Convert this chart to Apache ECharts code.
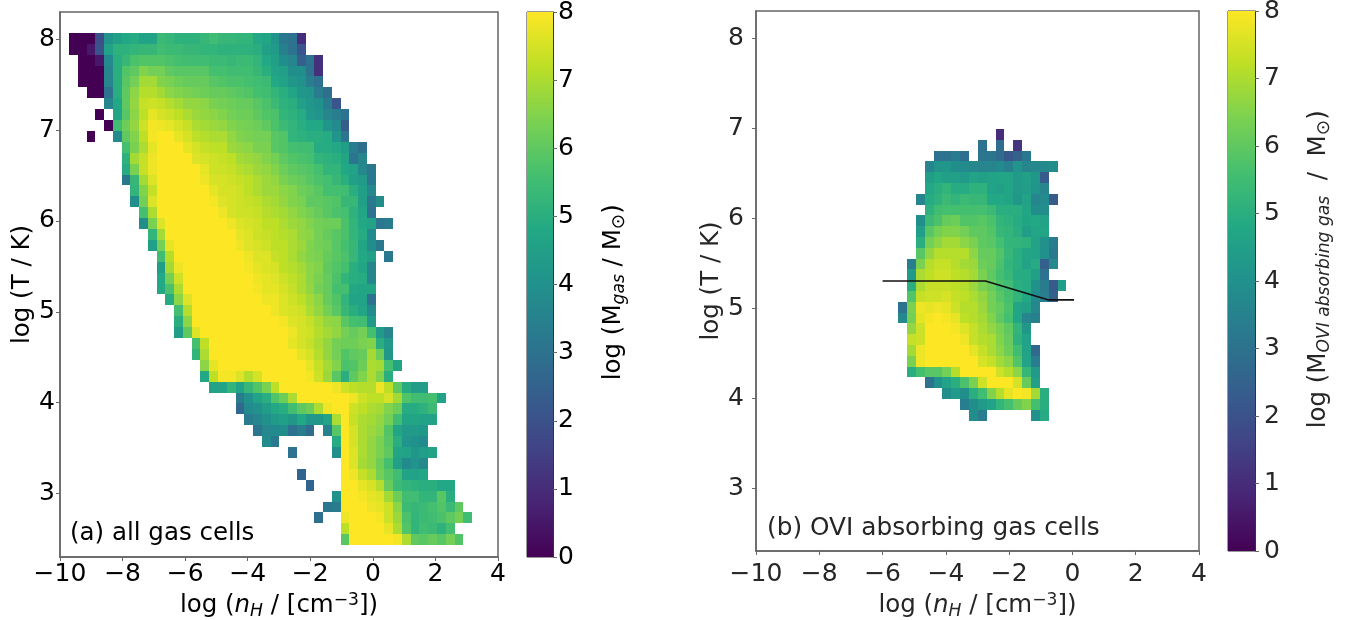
<!DOCTYPE html>
<html>
<head>
<meta charset="utf-8">
<style>html,body{margin:0;padding:0;background:#fff}#c{width:1348px;height:620px}</style>
<script src="https://cdn.jsdelivr.net/npm/echarts@6/dist/echarts.min.js"></script>
</head>
<body>
<div id="c"></div>
<script>
// histogram bins
const binX0 = -9.71, binW = 0.28, binYTop = 8.07, binH = 0.12;
// axis ticks
const xTicks = [-10,-8,-6,-4,-2,0,2,4];
const yTicks = [3,4,5,6,7,8];
const cbarRange = [0,8];
// viridis
const viridis = ['#440154','#482475','#414487','#355f8d','#2a788e','#21918c','#22a884','#44bf70','#7ad151','#bddf26','#fde725'];
// Panel (a): [row, firstColumn, values...]  (row 0 = top)
const gasRows = [
[0,0,0,0,0,1.9,4.1,4.5,4.8,4.9,4.6,4.6,5.4,5.3,5.1,5.1,5.1,5.3,5.5,5.3,5.3,5.2,5.2,4.8,4.7,4.1,3.2,3,1],
[1,0,0,0,0.5,2,4.6,5.1,5.1,5.2,5.3,5.3,5.5,5.4,5.4,5.3,5.3,5.2,5.2,5.1,5.1,5.1,5.1,5,4.5,4.3,3.5,3,2.1],
[2,1,0,0,0.5,3.8,5,5.3,5.7,5.8,5.8,5.8,5.7,5.6,5.5,5.5,5.5,5.4,5.4,5.3,5.4,5.4,5.2,4.8,4.5,3.9,3.6,2.4,3,1.1],
[3,1,0,0,0,3.6,5,5.8,6,6.5,6.3,6.3,6,5.9,5.9,5.9,5.9,5.6,5.6,5.5,5.5,5.5,5.3,5,4.6,4.5,3.9,3.9,3,1.1],
[4,1,0,0,0,3.6,5,5.9,6.3,6.9,6.9,6.5,6.4,6.2,6.1,6.1,6.1,5.9,5.8,5.7,5.7,5.6,5.5,5.4,4.8,4.6,4.2,4,3.4,3],
[5,2,0,0,3,5,6,6.6,7.1,7.1,6.9,6.6,6.5,6.4,6.3,6.2,6.1,6.1,6,5.9,5.8,5.6,5.5,5.2,5,4.7,4.2,4.1,3.3,2.9],
[6,4,3.6,4.8,6,6.7,7.3,7.4,7.3,7.1,6.9,6.7,6.7,6.6,6.4,6.3,6.2,6.1,6.1,5.9,5.7,5.4,5.1,5,4.5,4.2,4,3.3,2.1],
[7,3,0,null,4.7,5.9,6.6,7.2,7.7,7.5,7.4,7.2,7,6.8,6.7,6.6,6.5,6.3,6.2,6.2,6,5.8,5.7,5.2,5.1,4.9,4.3,4.1,3.6,3.4,3],
[8,4,0,5.5,6.2,6.7,7.4,7.9,7.8,7.7,7.5,7.3,7,6.9,6.8,6.7,6.5,6.4,6.3,6.2,6,5.7,5.4,5.2,5,4.8,4.8,4.1,3.8,2.3],
[9,2,0,null,null,3.8,6,6.5,7.2,7.9,8,8,7.7,7.5,7.2,7.1,7,7,6.7,6.5,6.4,6.3,6.3,5.9,5.8,5.2,5.1,5,5,4.9,4.1,3.1],
[10,6,5.6,6.4,7,7.7,8,8,8,7.7,7.5,7.3,7.2,7.2,6.8,6.7,6.6,6.4,6.4,5.9,5.8,5.6,5.5,5.5,4.9,4.9,4.8,4.4,3.4,2.9],
[11,6,5.1,6.9,7.3,7.8,8,8,8,8,7.6,7.5,7.4,7.3,7.2,6.9,6.8,6.7,6.5,6.3,6,5.8,5.7,5.6,5.2,5.1,5,4.7,3.1,3.6],
[12,6,4.9,6.4,7.3,7.8,8,8,8,8,8,7.7,7.4,7.4,7.3,7.1,7,6.8,6.7,6.5,6.2,6,5.9,5.8,5.6,5.2,5.2,4.8,4.6,3.7,3.2],
[13,6,3.2,5.3,6.9,7.6,8,8,8,8,8,7.8,7.5,7.5,7.4,7.3,7.2,7,6.8,6.7,6.4,6.2,6.1,5.9,5.7,5.6,5.3,5,4.5,4.3,3.2],
[14,7,5.2,6.5,7.3,8,8,8,8,8,8,7.7,7.5,7.5,7.4,7.2,7,6.8,6.8,6.6,6.5,6.2,6.1,5.9,5.6,5.6,5.5,5,4.5,3.7],
[15,7,3.9,6.3,7.6,8,8,8,8,8,8,7.9,7.6,7.5,7.4,7.3,7.2,7,6.9,6.7,6.5,6.4,6,6,5.9,5.8,5.3,5.3,4.5,3.2,3.9],
[16,8,5.6,7,8,8,8,8,8,8,8,7.8,7.5,7.4,7.4,7.3,7.1,7,6.9,6.7,6.5,6.3,6.1,5.9,5.7,5.6,5.1,4.7,3],
[17,8,3.9,6.4,7.6,8,8,8,8,8,8,8,7.8,7.6,7.5,7.4,7.2,7.2,7,6.8,6.7,6.5,6.3,6.2,6.2,5.7,5.2,4.8,4.6,3.1,3.3],
[18,9,5.2,6.9,8,8,8,8,8,8,8,8,7.7,7.6,7.4,7.3,7.2,7.1,7,6.7,6.6,6.3,6.1,5.9,5.7,5.2,4.9,3.8],
[19,9,4.5,6.3,7.7,8,8,8,8,8,8,8,7.8,7.6,7.5,7.4,7.2,7.2,7,6.8,6.5,6.3,6.2,5.9,5.6,5.3,4.7,3.9,3.2],
[20,10,5.5,7.1,8,8,8,8,8,8,8,8,7.8,7.6,7.6,7.3,7.2,7,6.7,6.5,6.4,6.1,5.9,5.7,5.3,4.8,4.5,null,3.2],
[21,10,4.4,6.9,7.8,8,8,8,8,8,8,8,7.9,7.7,7.6,7.5,7.2,7.1,6.9,6.6,6.5,6,5.8,5.6,5,4.7,3.6],
[22,10,4.8,6.3,7.4,8,8,8,8,8,8,8,8,7.8,7.7,7.6,7.4,7.2,7,6.6,6.4,6.1,5.7,5.2,5,4.9,3.6],
[23,10,4.8,5.7,7,8,8,8,8,8,8,8,8,7.9,7.7,7.7,7.5,7.3,7,6.7,6.3,6.1,5.6,5.6,4.8,4.7,4.7],
[24,11,4.9,6.6,7.6,8,8,8,8,8,8,8,8,7.8,7.8,7.6,7.4,7.2,6.9,6.6,6.1,5.8,5.2,4.6,4.6,3],
[25,12,5.6,7.1,8,8,8,8,8,8,8,8,8,7.8,7.6,7.5,7.4,7,6.7,6.3,5.9,5.3,5,4.7,3.8],
[26,12,5,6.6,8,8,8,8,8,8,8,8,8,8,7.9,7.6,7.5,7.3,7,6.7,6.6,5.9,5.6,5.5,4.3],
[27,12,4.4,6,7.6,8,8,8,8,8,8,8,8,8,8,7.8,7.5,7.4,7.1,6.9,6.7,6.3,6.1,6.3,5.6,4.3,3.6],
[28,14,5.6,7.2,8,8,8,8,8,8,8,8,8,7.7,7.5,7.3,7,6.7,6.3,6.2,6.2,6.4,6.5,5,4.3],
[29,14,5.2,7,8,8,8,8,8,8,8,8,8,8,7.7,7.5,7.1,6.7,6.3,5.8,6,6.1,6.9,6.2,4.2],
[30,15,6.6,7.7,8,8,8,8,8,8,8,8,8,8,7.7,7.3,6.9,6.5,5.7,5.8,6.2,7,6.9,5.6,4.7],
[31,15,4.8,7.2,7.9,7.9,7.6,7.1,7.5,8,8,8,8,8,7.9,7.4,6.8,5.9,5,6,6.5,7,6.5,5],
[32,16,4.6,4.6,5.2,4.6,5.3,5.8,6.4,7.2,8,8,8,8,8,8,7.8,7.4,7.2,7.1,7.1,7.8,7.2,6,4.9,4.4,4.4],
[33,19,3.3,4,4.6,5,5.8,6.2,7,8,8,8,8,8,8,7.8,7.4,7.2,7.2,7.5,6.9,5.8,5.5,5.5,5.6,4.6],
[34,19,2.7,3.8,4,4.4,4.8,5,5.5,6,6.2,7,7.8,8,8,7.4,7.2,7,6.9,6.5,6.2,4.9,4.9,5.1,5.4],
[35,20,3.3,3.6,4,4.3,4.5,4.2,4.8,4.2,4.2,4.6,7,8,7.3,7,6.9,6.7,6.3,5.5,4.7,4.7,4.6,4.6],
[36,21,3.1,3.7,3.8,3.9,3,3.4,2.8,null,3.5,5.9,8,7.5,7,6.8,6.6,5.8,4.7,4.3,4.3,4.2],
[37,22,3.8,3.2,null,null,null,null,null,null,4.9,8,7.5,7,6.7,6.4,5.9,5,4.1,4,3.8],
[38,25,3,null,null,null,null,3.9,8,7.6,7,6.7,6.4,6,4.7,4.6,4.2,4.4,4.6],
[39,31,8,7.6,6.9,6.7,6.2,5.6,4.5,3.8,4.1,3.7],
[40,26,2.6,null,null,null,null,8,7.8,7.3,7,6.3,5.9,5.5,4.6,4.6,4.8],
[41,27,2.6,null,null,null,8,8,7.7,7.5,7.1,6.1,5.4,5.2,5.1,5,5,4.8,4.8],
[42,30,4,8,8,7.9,7.7,7.6,6.9,6.2,5.5,5.5,5.2,5.2,5.9,5],
[43,29,3.2,3.3,8,8,8,7.8,7.7,7.4,6.6,5.4,5.3,5.4,5.6,5.8,5.4,6],
[44,28,2.9,null,null,7.8,8,8,8,7.9,7.4,6.8,5.7,5.2,5.4,5.5,5.7,6,6.3,5.5],
[45,31,7.2,8,8,8,8,7.7,7,5.8,5.2,5.5,5.4,5.1,5.6],
[46,31,5.9,8,8,8,8,8,7.9,7,6,5.9,6.1,5.9,6.3,5.8]
];
// Panel (b): [row, firstColumn, values...]
const oviRows = [
[9,26,1],
[10,24,3,null,2.8,null,1.2],
[11,19,3,3,3.3,2.9,null,3.1,3.1,2.8,2.2,2.5,3.2],
[12,18,3.6,4.1,4.2,3.9,3.8,3.7,3.6,3.6,3.8,3.5,4.1,3.6,3.7,3.7,3.9],
[13,18,4.4,4.7,4.5,4.5,4.3,4.6,4.5,4.6,4.7,4.7,4.3,4.5,4.2,2.3],
[14,18,4.8,5,5.2,4.9,4.9,5.1,5.1,4.6,4.5,4.7,4.3,4.4,4.1,3.6],
[15,17,3.6,4.9,5.1,5.4,5.2,5.4,5.3,5.3,4.8,4.8,4.7,4.2,4.6,3.6,3.8,2.3],
[16,18,5.1,5.5,5.6,5.6,5.6,5.6,5.6,5.4,5,5,5,4.7,3.9,3.9],
[17,17,3.9,5.4,5.7,6.1,6.2,5.8,5.8,5.9,5.7,5.2,5.1,4.9,4.7,4.8,4.6],
[18,17,4.4,5.9,6.3,6.5,6.5,6.3,6,6,5.8,5.3,5.2,5,4.4,4.7,4.7],
[19,17,5,6.3,6.6,6.9,6.9,6.6,6.4,6,5.9,5.6,5.2,5.2,5.1,4.6,4,3.3],
[20,17,5.9,6.7,7.1,7.1,7.1,7.1,6.6,6.1,6.1,5.8,5.3,5,4.7,4.6,4,3.2],
[21,16,3.4,6.4,7.1,7.3,7.3,7.1,6.9,6.8,6.2,6.1,5.7,5.2,5,4.6,4.9,2.4,3.7],
[22,16,4.3,7,7.2,7.4,7.4,7.2,7.1,6.9,6.4,6,5.6,5.3,4.9,4.9,4.5,3],
[23,16,5,7,7.3,7.3,7.3,7.2,7.1,6.8,6.4,6.1,5.7,5.5,5,4.9,4,3.3,2.3,4.4],
[24,16,5.8,7.3,7.4,7.4,7.5,7.3,7.2,7,6.7,6.3,5.9,5.6,5.2,4.8,3.8,3.4,2.4],
[25,15,3,6.4,7.8,7.7,7.8,7.7,7.4,7.1,7.1,6.8,6.3,6.1,5.7,4.7,4.5,3.7],
[26,15,3.7,6.3,7.7,7.9,8,7.9,7.7,7.2,7.1,6.9,6.5,6,5.6,4.7,3.6,3.5],
[27,16,6.7,7.4,8,8,8,7.9,7.6,7.3,7,6.7,6.4,6,5.2,4.2],
[28,16,7.3,7.4,8,8,8,8,7.8,7.3,7.1,7,6.5,6.1,5.1,4.6],
[29,16,6.9,7.8,8,8,8,8,8,7.7,7.3,7,6.6,6.2,5.5,4.6,2.7],
[30,16,6.4,7.8,8,8,8,8,8,8,7.5,7.3,6.9,6.6,5.8,4.6,3.4],
[31,16,5,5.6,5.9,5.9,6.3,7.1,8,8,8,8,7.4,7.1,6.6,5.3,4.3],
[32,18,3,4,4.6,5,5.7,6.4,7.4,8,8,8,7.5,6.1,4.5],
[33,20,3.9,4.3,3.9,5,5.5,6.5,7.1,7.7,8,7.9,6.9,5],
[34,22,3.4,3.9,4.3,4.6,5.2,5.6,6.1,6.5,5.6,5],
[35,23,3.9,3.4,null,null,null,null,null,4,4.9]
];
// Black curve in panel (b)
const curveX = [-6,-2.75,-0.75,0.05];
const curveY = [5.3,5.3,5.09,5.09];

function cells(rows){
  const out=[];
  rows.forEach(r=>{
    for(let i=2;i<r.length;i++){
      if(r[i]===null) continue;
      out.push([binX0+binW*(r[1]+i-2), binYTop-binH*r[0], r[i]]);
    }
  });
  return out;
}
function renderCell(params,api){
  const x=api.value(0), y=api.value(1);
  const a=api.coord([x,y]), b=api.coord([x+binW,y-binH]);
  const x0=Math.round(a[0]),y0=Math.round(a[1]),x1=Math.round(b[0]),y1=Math.round(b[1]);
  return {type:'rect',shape:{x:x0,y:y0,width:x1-x0,height:y1-y0},style:{fill:api.visual('color')}};
}
function renderBar(params,api){
  const a=api.coord([0,cbarRange[1]]), b=api.coord([1,cbarRange[0]]);
  const stops=viridis.map((c,i)=>({offset:1-i/(viridis.length-1),color:c}));
  return {type:'rect',shape:{x:a[0],y:a[1],width:b[0]-a[0],height:b[1]-a[1]},
    style:{fill:new echarts.graphic.LinearGradient(0,0,0,1,stops.reverse())}};
}
const fmtX=v=>String(v).replace('-','\u2212');
const F='"DejaVu Sans"';
const TICK=25, NAME=24.5;
function nameRich(color,size){
  const b={fontFamily:F,fontSize:size,color:color};
  return {
    a:{...b,verticalAlign:'middle'},
    i:{...b,fontStyle:'italic',verticalAlign:'middle'},
    sub:{...b,fontSize:size*0.7,fontStyle:'italic',verticalAlign:'bottom',lineHeight:size*1.15},
    subn:{...b,fontSize:size*0.7,fontStyle:'italic',verticalAlign:'bottom',lineHeight:size*1.15},
    odot:{...b,fontSize:size*0.75,verticalAlign:'bottom',lineHeight:size*1.15},
    sup:{...b,fontSize:size*0.7,verticalAlign:'top',lineHeight:size*1.15}
  };
}
function xAx(idx,color,spine,margin,gap){
  return {gridIndex:idx,type:'value',min:-10,max:4,interval:2,
    name:'{a|log (}{i|n}{sub|H}{a| / [cm}{sup|\u22123}{a|])}',nameLocation:'middle',nameGap:gap,
    nameTextStyle:{rich:nameRich(color,NAME)},
    axisLine:{show:true,onZero:false,lineStyle:{color:spine,width:1.5}},
    axisTick:{show:true,length:4,lineStyle:{color:spine,width:1}},
    axisLabel:{fontFamily:F,fontSize:TICK,color:color,margin:margin,formatter:fmtX,hideOverlap:false},
    splitLine:{show:false}};
}
function yAx(idx,color,spine,margin,gap){
  return {gridIndex:idx,type:'value',min:2.3,max:8.3,
    name:'log (T / K)',nameLocation:'middle',nameGap:gap,
    nameTextStyle:{fontFamily:F,fontSize:NAME,color:color},
    axisLine:{show:true,onZero:false,lineStyle:{color:spine,width:1.5}},
    axisTick:{show:true,length:4,customValues:yTicks,lineStyle:{color:spine,width:1}},
    axisLabel:{fontFamily:F,fontSize:TICK,color:color,margin:margin,customValues:yTicks,padding:[7,0,0,0]},
    splitLine:{show:false}};
}
function cbX(idx){return {gridIndex:idx,type:'value',min:0,max:1,show:false};}
function cbY(idx,color,name,margin,gap){
  return {gridIndex:idx,type:'value',position:'right',min:cbarRange[0],max:cbarRange[1],interval:1,
    name:name,nameLocation:'middle',nameRotate:90,nameGap:gap,
    nameTextStyle:{rich:nameRich(color,NAME)},
    axisLine:{show:true,onZero:false,lineStyle:{color:'#333',width:1}},
    axisTick:{show:true,length:4,lineStyle:{color:'#666',width:1}},
    axisLabel:{fontFamily:F,fontSize:TICK,color:color,margin:margin,padding:[9,0,0,0],hideOverlap:false,showMinLabel:true,showMaxLabel:true},
    splitLine:{show:false}};
}
const gridBase={show:true,backgroundColor:'transparent',borderColor:'#666',borderWidth:1.5,outerBoundsMode:'none'};
const option={
  animation:false,
  backgroundColor:'#fff',
  grid:[
    {...gridBase,left:60,top:12,width:438,height:545},
    {left:527,top:12,width:26,height:545,show:true,borderColor:'#333',borderWidth:1,outerBoundsMode:'none'},
    {...gridBase,left:756,top:11,width:443,height:540},
    {left:1228,top:11,width:27,height:540,show:true,borderColor:'#333',borderWidth:1,outerBoundsMode:'none'}
  ],
  xAxis:[xAx(0,'#000','#666',5,34),cbX(1),xAx(2,'#262626','#666',11,39),cbX(3)],
  yAxis:[yAx(0,'#000','#666',5,23),
    cbY(1,'#000','{a|log (M}{subn|gas}{a| / M}{odot|\u2299}{a|)  }',5,47),
    yAx(2,'#262626','#666',12,30),
    cbY(3,'#262626','{a|   log (M}{subn|OVI absorbing gas}{a|  /  M}{odot|\u2299}{a|)}',9,50)],
  visualMap:[{show:false,type:'continuous',min:0,max:8,dimension:2,seriesIndex:[0,2],inRange:{color:viridis}}],
  title:[
    {text:'(a) all gas cells',left:65,top:516,textStyle:{fontFamily:F,fontSize:24.5,fontWeight:'normal',color:'#000'}},
    {text:'(b) OVI absorbing gas cells',left:762,top:511,textStyle:{fontFamily:F,fontSize:24.8,fontWeight:'normal',color:'#262626'}}
  ],
  series:[
    {type:'custom',xAxisIndex:0,yAxisIndex:0,data:cells(gasRows),encode:{x:0,y:1},renderItem:renderCell,progressive:0,silent:true},
    {type:'custom',xAxisIndex:1,yAxisIndex:1,data:[[0,0]],encode:{x:0,y:1},renderItem:renderBar,silent:true},
    {type:'custom',xAxisIndex:2,yAxisIndex:2,data:cells(oviRows),encode:{x:0,y:1},renderItem:renderCell,progressive:0,silent:true},
    {type:'custom',xAxisIndex:3,yAxisIndex:3,data:[[0,0]],encode:{x:0,y:1},renderItem:renderBar,silent:true},
    {type:'line',xAxisIndex:2,yAxisIndex:2,data:curveX.map((x,i)=>[x,curveY[i]]),showSymbol:false,symbol:'none',
      lineStyle:{color:'#111',width:1.6},z:5,silent:true}
  ]
};
echarts.init(document.getElementById('c')).setOption(option);
</script>
</body>
</html>
